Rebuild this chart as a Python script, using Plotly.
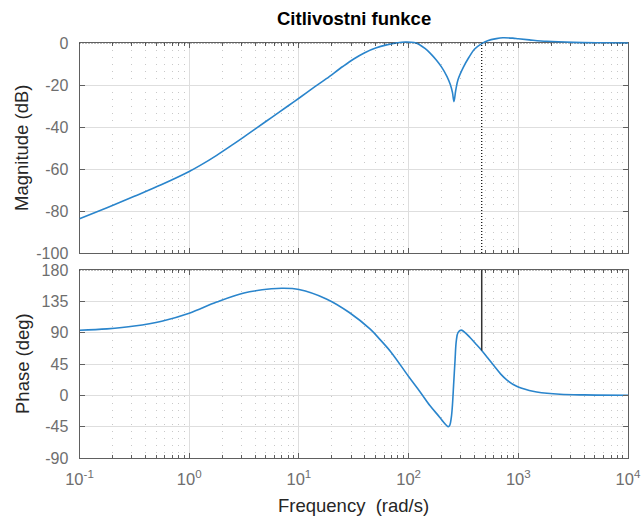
import plotly.graph_objects as go

# ---- text ----
title_text = "Citlivostni funkce"
freq_label = "Frequency  (rad/s)"
mag_label = "Magnitude (dB)"
phase_label = "Phase (deg)"

# ---- sensitivity function, magnitude ----
mag_w = [0.1, 0.178, 0.316, 0.562, 1.0, 1.26, 1.78, 2.51, 3.16, 3.98, 5.62, 7.94,
         10, 14, 17.8, 25.1, 31.6, 39.8, 50.1, 63.1, 79.4, 93.3, 112, 126, 141,
         157, 178, 200, 224, 240, 251, 259, 269, 282, 316, 355, 398, 464, 525,
         631, 724, 891, 1000, 1259, 1820, 3162, 5623, 10000]
mag_db = [-83.7, -78.4, -73.0, -67.4, -61.2, -58.3, -53.5, -48.3, -44.7, -41.0,
          -35.5, -30.0, -26.3, -20.8, -17.0, -11.2, -7.6, -4.6, -2.4, -0.9, 0.1,
          0.45, 0.2, -0.8, -2.6, -4.8, -8.0, -11.5, -16.0, -19.8, -23.5, -27.9,
          -22.5, -17.5, -11.5, -6.8, -3.0, -0.3, 1.1, 2.1, 2.5, 2.3, 2.0, 1.5,
          0.8, 0.3, 0.1, 0.0]

# ---- sensitivity function, phase ----
phase_w = [0.1, 0.178, 0.316, 0.562, 1.0, 1.78, 3.16, 5.62, 7.08, 10, 17.8, 28.8,
           44.7, 55, 69.2, 100, 126, 157, 191, 207, 221, 230, 237, 245, 251, 257,
           265, 272, 282, 301, 331, 363, 407, 464, 525, 603, 692, 794, 966, 1259,
           1472, 2399, 3981, 10000]
phase_deg = [93.5, 95.5, 99.5, 106.5, 118, 134, 147, 153, 153.8, 152, 138.5, 119,
             95, 80, 62, 27, 6, -15, -31, -38, -43, -45, -43, -32, -14, 14, 50,
             78, 90, 93.7, 89.5, 83, 74.5, 64.5, 54, 42, 30.5, 21.5, 13, 7, 4.8,
             1.6, 0.6, 0.2]

# 0 dB crossing of |S| and the phase there
cross_w = 464
cross_phase = 64.5

# ---- axis ticks ----
x_tickvals = [0.1, 1, 10, 100, 1000, 10000]
x_ticktext = ["10<sup>-1</sup>", "10<sup>0</sup>", "10<sup>1</sup>",
              "10<sup>2</sup>", "10<sup>3</sup>", "10<sup>4</sup>"]
mag_ticks = [-100, -80, -60, -40, -20, 0]
phase_ticks = [-90, -45, 0, 45, 90, 135, 180]

# ---- layout geometry (pixels) ----
W, H = 644, 523
left, right = 79.5, 628.0
mag_top, mag_bot = 43.0, 253.0
ph_top, ph_bot = 270.0, 458.0
spill_top = 36.5  # room for the curve above the 0 dB edge

def fy(p):
    return 1 - p / H

xdom = [left / W, right / W]
px_per_db = (mag_bot - mag_top) / 100.0
spill_db = (mag_top - spill_top) / px_per_db

minor_vals = [m * 10 ** e for e in range(-1, 4) for m in range(2, 10)]

blue = "#2a85cc"
frame = "#606060"
tickc = "#6e6e6e"
gridc = "#dedede"
minorc = "#c8c8c8"
font = "Liberation Sans, Arial, sans-serif"

fig = go.Figure()

fig.add_trace(go.Scatter(x=mag_w, y=mag_db, mode="lines", xaxis="x3", yaxis="y3",
                         line=dict(color=blue, width=1.6, shape="spline", smoothing=1.0),
                         hoverinfo="skip", showlegend=False))
fig.add_trace(go.Scatter(x=phase_w, y=phase_deg, mode="lines", xaxis="x2", yaxis="y2",
                         line=dict(color=blue, width=1.6, shape="spline", smoothing=1.0),
                         hoverinfo="skip", showlegend=False))

def xaxis_common(show_labels):
    return dict(
        type="log", range=[-1, 4], domain=xdom,
        tickmode="array", tickvals=x_tickvals,
        ticktext=x_ticktext if show_labels else [""] * len(x_tickvals),
        showticklabels=show_labels,
        ticks="inside", ticklen=5, tickcolor=frame,
        showline=True, linecolor=frame, linewidth=1, mirror="allticks",
        showgrid=True, gridcolor=gridc, gridwidth=1,
        zeroline=False, automargin=False,
        tickfont=dict(family=font, size=16.5, color=tickc),
        ticklabelstandoff=6,
        minor=dict(tickmode="array", tickvals=minor_vals, ticks="inside",
                   ticklen=3, tickcolor=frame, showgrid=True,
                   gridcolor=minorc, griddash="1px,6px", gridwidth=1),
    )

def yaxis_common(vals, rng, dom, anchor):
    return dict(
        range=rng, domain=dom, anchor=anchor,
        tickmode="array", tickvals=vals, ticktext=[str(v) for v in vals],
        ticks="inside", ticklen=5, tickcolor=frame,
        showline=True, linecolor=frame, linewidth=1, mirror="allticks",
        showgrid=True, gridcolor=gridc, gridwidth=1,
        zeroline=False, automargin=False,
        tickfont=dict(family=font, size=16, color=tickc),
        ticklabelstandoff=7,
    )

fig.update_layout(
    width=W, height=H,
    margin=dict(l=0, r=0, t=0, b=0, autoexpand=False),
    paper_bgcolor="white", plot_bgcolor="rgba(0,0,0,0)",
    showlegend=False,
    xaxis=dict(xaxis_common(False), anchor="y"),
    yaxis=yaxis_common(mag_ticks, [-100, 0], [fy(mag_bot), fy(mag_top)], "x"),
    xaxis2=dict(xaxis_common(True), anchor="y2"),
    yaxis2=yaxis_common(phase_ticks, [-90, 180], [fy(ph_bot), fy(ph_top)], "x2"),
    xaxis3=dict(type="log", range=[-1, 4], domain=xdom, anchor="y3", visible=False,
                showgrid=False),
    yaxis3=dict(range=[-100, spill_db], domain=[fy(mag_bot), fy(spill_top)],
                anchor="x3", visible=False, showgrid=False),
)

# margin markers: 0 dB / 180 deg reference lines and the crossover frequency
dotted = dict(color="black", width=1.2, dash="1px,2px")
fig.add_shape(type="line", xref="x domain", yref="y", x0=0, x1=1, y0=0, y1=0,
              line=dotted)
fig.add_shape(type="line", xref="x", yref="y", x0=cross_w, x1=cross_w, y0=-100, y1=0,
              line=dotted)
fig.add_shape(type="line", xref="x2 domain", yref="y2", x0=0, x1=1, y0=180, y1=180,
              line=dotted)
fig.add_shape(type="line", xref="x2", yref="y2", x0=cross_w, x1=cross_w,
              y0=180, y1=cross_phase, line=dict(color="#333333", width=1.5))

# titles
fig.add_annotation(text="<b>" + title_text + "</b>", xref="paper", yref="paper",
                   x=(left + right) / 2 / W, y=fy(18), showarrow=False,
                   font=dict(family=font, size=18.5, color="black"),
                   xanchor="center", yanchor="middle")
fig.add_annotation(text=freq_label, xref="paper", yref="paper",
                   x=(left + right) / 2 / W, y=fy(505), showarrow=False,
                   font=dict(family=font, size=18.5, color="#262626"),
                   xanchor="center", yanchor="middle")
fig.add_annotation(text=mag_label, xref="paper", yref="paper",
                   x=22 / W, y=fy((mag_top + mag_bot) / 2), showarrow=False,
                   textangle=-90, font=dict(family=font, size=18.5, color="#262626"),
                   xanchor="center", yanchor="middle")
fig.add_annotation(text=phase_label, xref="paper", yref="paper",
                   x=22 / W, y=fy((ph_top + ph_bot) / 2), showarrow=False,
                   textangle=-90, font=dict(family=font, size=18.5, color="#262626"),
                   xanchor="center", yanchor="middle")

fig.write_html("out.html")
